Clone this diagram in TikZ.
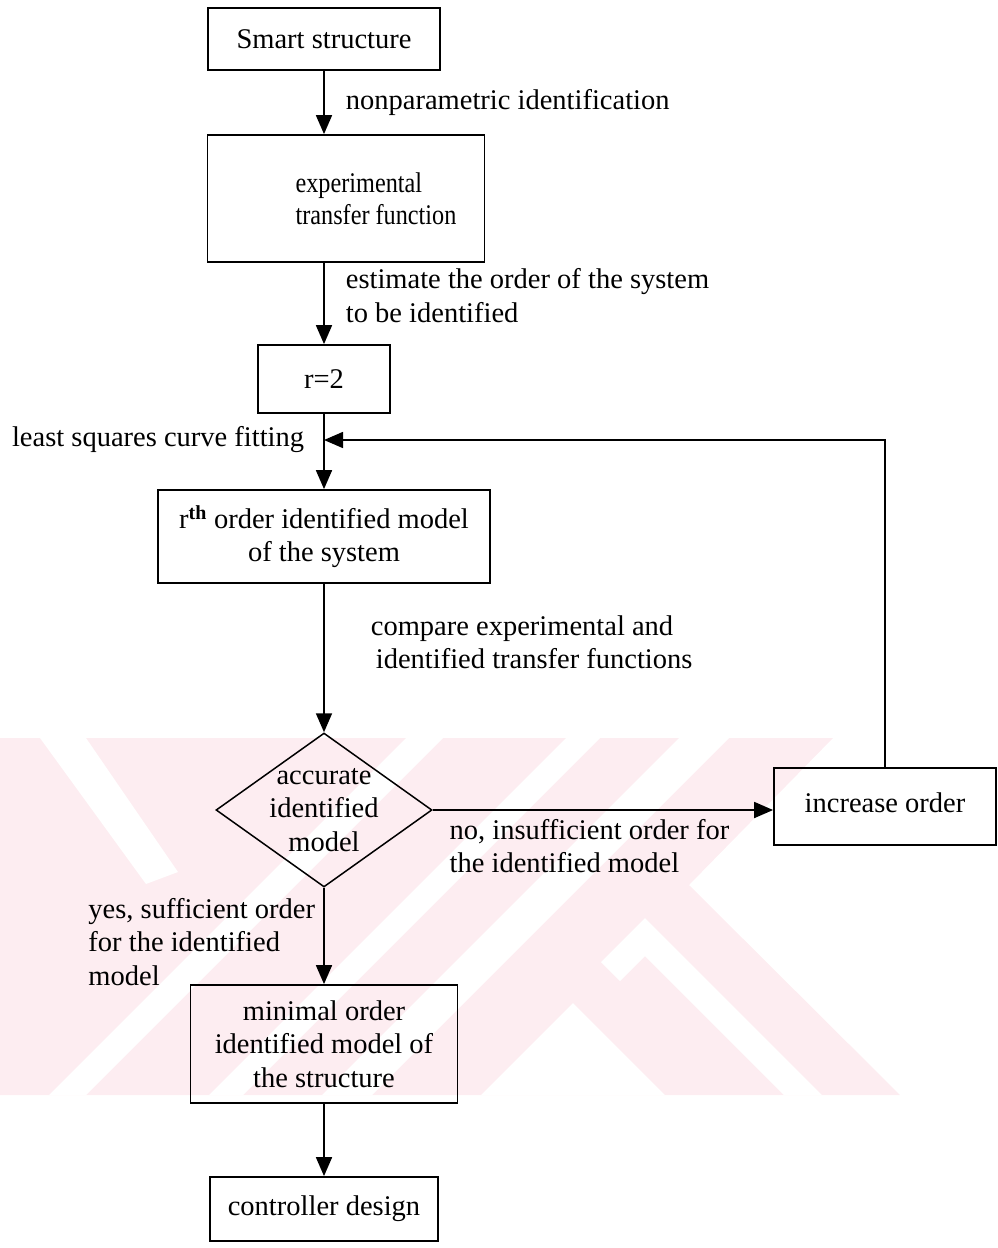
\documentclass[tikz,border=0pt]{standalone}
\usepackage{fontspec}
\setmainfont{Liberation Serif}
\usepackage{xcolor}
\usetikzlibrary{arrows.meta, shapes.geometric, positioning}

\definecolor{wmpink}{RGB}{253,237,241}
\newcommand{\narrow}[1]{\scalebox{0.85}[1]{#1}}

\begin{document}
\begin{tikzpicture}[x=1pt, y=-1pt, node distance=160pt, on grid,
  font=\fontsize{28.5}{33.5}\selectfont,
  block/.style={rectangle, draw, line width=1.8pt, inner sep=0pt, align=center},
  decision/.style={diamond, draw, line width=1.5pt, inner sep=-12pt, align=center},
  lbl/.style={inner sep=0pt, align=left},
  arr/.style={line width=1.8pt, -{Triangle[length=19pt,width=16pt]}}]

\useasboundingbox (0,0) rectangle (998,1248);

% pale stamp behind the lower part
\begin{scope}
  \clip (0,738) rectangle (998,1095);
  \fill[wmpink] (0,738) -- (833,738) -- (689,885) -- (900,1095) -- (0,1095) -- cycle;
  \fill[white] (40,738) -- (86,738) -- (178,872) -- (146,884) -- cycle;
  \foreach \a/\b in {406/443, 566/600, 679/729}
    \fill[white] (\a,738) -- (\b,738) -- (\b-357,1095) -- (\a-357,1095) -- cycle;
  \fill[white] (645,918) -- (822,1095) -- (784,1095) -- (645,956) -- (620,981) -- (601,962) -- cycle;
  \fill[white] (573,1003) -- (665,1095) -- (481,1095) -- cycle;
\end{scope}

% main column
\node[block, minimum width=232pt, minimum height=62pt] (smart) at (324,39) {Smart structure};
\node[block, align=left, minimum width=277pt, minimum height=127pt, below=159.5pt of smart, xshift=22pt] (exptf) {\hspace*{60pt}\narrow{experimental}\\[-1pt]\hspace*{60pt}\narrow{transfer function}};
\node[block, minimum width=132pt, minimum height=68pt, below=180.5pt of exptf, xshift=-22pt] (rtwo) {r=2};
\node[block, minimum width=332pt, minimum height=93pt, below=157.5pt of rtwo] (rmodel) {r\textsuperscript{\bfseries th} order identified model\\of the system};
\node[decision, minimum width=216pt, minimum height=154pt, below=273.5pt of rmodel] (accurate) {accurate\\identified\\model};
\node[block, minimum width=222pt, minimum height=77pt, right=561pt of accurate, yshift=3.5pt] (incorder) {\raisebox{8pt}{increase order}};
\node[block, minimum width=267pt, minimum height=118pt, below=234pt of accurate] (minmodel) {minimal order\\identified model of\\the structure};
\node[block, minimum width=228pt, minimum height=64pt, below=165pt of minmodel] (ctrl) {controller design};

\coordinate[below=61pt of rtwo] (loopin);

% connectors
\draw[arr] (smart.south) -- (smart.south |- exptf.north)
  node[lbl, midway, right=21pt] (lblnonpar) {nonparametric identification};
\draw[arr] (rtwo |- exptf.south) -- (rtwo.north)
  node[lbl, midway, right=21pt, yshift=8pt] (lblorder) {estimate the order of the system\\to be identified};
\draw[arr] (rtwo.south) -- (loopin)
  node[lbl, left=19pt] (lbllsq) {least squares curve fitting} -- (rmodel.north);
\draw[arr] (rmodel.south) -- (accurate.north)
  node[lbl, midway, right=46pt, yshift=16pt] (lblcmp) {compare experimental and\\\hspace*{5pt}identified transfer functions};
\draw[arr] (accurate.east) -- (accurate.east -| incorder.west)
  node[lbl, pos=0, right=16pt, yshift=-36pt] (lblno) {no, insufficient order for\\the identified model};
\draw[arr] (accurate.south) -- (minmodel.north)
  node[lbl, midway, left=8pt, yshift=-6pt] (lblyes) {yes, sufficient order\\for the identified\\model};
\draw[arr] (minmodel.south) -- (ctrl.north);
\draw[arr, line width=1.5pt] (incorder.north) |- (loopin);

\end{tikzpicture}
\end{document}
